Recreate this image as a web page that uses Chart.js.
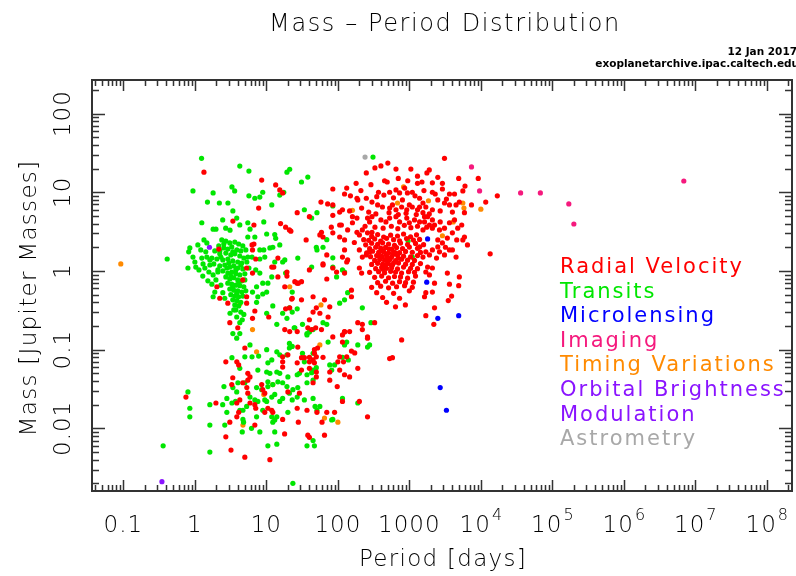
<!DOCTYPE html>
<html lang="en">
<head>
<meta charset="UTF-8" />
<title>Mass - Period Distribution</title>
<script src="https://cdn.jsdelivr.net/npm/chart.js"></script>
<style>
  body { margin: 0; background: #fff; }
  canvas { display: block; }
</style>
</head>
<body>
<canvas id="chart" width="796" height="576"></canvas>
<script>
// [period (days), mass (Jupiter masses)]
const radialVelocity = [
  [1.34,18],[8.6,14.3],[13.5,12.4],[15.4,10.7],[16.9,9.8],[7.8,6.3],[27,5.5],[3.4,4.3],[6.7,3.84],[15.8,4.0],
  [18.6,3.6],[22,3.2],[40,4.9],[6.3,2.14],[6.4,1.85],[2.16,1.9],[6.7,2.2],[7.1,1.42],[5.3,1.09],[11.9,1.12],
  [12.7,1.12],[14.5,1.46],[6.4,0.94],[14.5,0.84],[19.4,0.86],[19.4,0.97],[25,0.73],[28,0.7],[18.1,0.63],[2.03,0.63],
  [2.23,0.45],[2.89,0.39],[5.3,0.39],[6.9,0.31],[3.08,0.22],[3.98,0.19],[6.4,0.25],[10.8,0.26],[18.6,0.33],[22.6,0.44],
  [21.2,0.34],[21.2,0.17],[27,0.17],[4.68,0.77],[5.3,0.47],
  // upper giant-planet cloud
  [400,21.6],[330,20.4],[250,17.6],[500,23.5],[650,19.7],[1050,19.7],[1760,17.6],[3100,27],[4900,15],[9200,15],
  [85,11],[124,9.5],[133,11.3],[58,7.5],[72,7.1],[85,6.9],[370,10],[450,14],[490,13.5],[530,10],
  [650,10.7],[730,9.8],[860,11.3],[940,9.8],[1100,10],[1300,13],[1500,13.5],[1900,19.2],[2100,13.2],[2900,13],
  [2900,11],[2100,10],[3640,9.5],[4280,9.5],[5600,10.4],[11700,7.5],[17000,9],[7400,6.9],[5900,5.5],[4500,6.9],
  [5000,7.5],[2500,8],[3100,7.3],[3640,6.9],[1390,8.4],[1550,7.3],[1390,6.5],[2100,6],[1550,5.5],[185,8.4],
  [190,8],[215,6.3],[250,8.4],[300,7.5],[106,5.6],[116,6],[146,5.8],[85,5.1],[106,3.84],[360,6.9],
  [420,6.5],[530,6.3],[580,6.9],[650,6],[780,6.5],[920,6],[1000,6.9],[1100,6.5],[1300,6],[1700,6.5],
  [160,4.9],[185,4.7],[160,4.1],[112,3.84],[81,3.6],[260,4.7],[278,4.2],[300,4.9],[400,4.45],[470,4.2],
  [530,4.7],[650,4.9],[730,4.2],[920,4.7],[1000,4.1],[1180,4.45],[1390,4.2],[1630,4.9],[1800,4.9],[2100,4.45],
  [1630,4.2],[2250,3.84],[1910,3.84],[4280,4.45],[5400,3.84],[4750,3.5],[3640,4.1],[3100,3.5],[2640,3.32],[2100,3.5],
  [1550,3.32],[137,3.32],[185,3.1],[200,2.87],[220,3.32],[260,3.05],[300,3.1],[85,3.05],[106,2.7],[124,2.48],
  [59,3.1],[62,2.7],[56,2.87],[36,2.48],[21,3.32],[4000,3.05],[3400,2.62],[5900,2.7],[5600,2.48],[6500,2.14],
  [4600,2.48],[2500,2.48],[2900,2.27],[2500,2.02],[2100,1.85],[1700,1.75],[2640,1.75],[3100,1.6],[3640,1.85],[4000,1.85],
  [1910,1.6],[1550,1.5],[2400,1.46],[1390,2.02],[13500,1.65],[124,1.85],[116,1.5],[137,1.38],[70,1.6],[62,1.19],
  [133,1.3],[200,1.85],[220,1.5],[250,1.6],[278,1.75],[85,1.09],[96,0.97],[124,0.94],[200,1.09],[215,0.94],
  [1800,1.12],[2100,1.09],[1700,0.97],[1910,0.89],[3400,0.94],[5000,0.84],[4900,0.65],[3640,0.68],[2250,0.7],[2100,0.54],
  [1700,0.53],[1630,0.47],[3900,0.48],[3500,0.42],[2250,0.34],[1700,0.27],[2200,0.21],[40,1.03],[62,1.23],[70,0.79],
  [150,9.0],[210,10.5],[290,12.5],[350,8.8],[440,9.2],[600,8.5],[800,8.0],[1200,9.0],[1600,10.5],[2300,9.5],
  [3300,8.2],[270,5.6],[340,5.3],[520,5.5],[700,5.2],[900,5.4],[1250,5.2],[1900,5.3],[2700,5.8],[4000,5.6],
  [240,3.7],[330,3.6],[430,3.5],[560,3.7],[690,3.45],[850,3.8],[1050,3.55],[1300,3.7],[1750,3.6],[2700,4.2],
  [170,2.3],[230,2.5],[3200,2.0],[4500,1.5],[1300,16],[700,15],[950,14],[2500,15.5],[6000,12],[180,13],
  // dense core near 1 AU
  [297,2.75],[360,2.9],[437,2.7],[547,2.85],[683,2.78],[830,2.95],[1040,2.72],[1260,2.88],
  [270,2.45],[327,2.55],[397,2.4],[480,2.6],[602,2.5],[730,2.42],[914,2.58],[1140,2.47],[1390,2.52],
  [245,2.15],[297,2.25],[360,2.18],[423,2.28],[512,2.2],[620,2.12],[753,2.26],[944,2.17],[1220,2.24],[1580,2.16],
  [278,1.92],[338,2.0],[397,1.95],[465,1.99],[565,1.9],[662,1.98],[803,1.93],[1000,2.01],[1300,1.94],
  [253,1.7],[306,1.78],[372,1.72],[437,1.76],[512,1.69],[602,1.75],[730,1.71],[885,1.77],[1100,1.73],[1430,1.72],
  [287,1.52],[349,1.57],[410,1.53],[480,1.56],[565,1.5],[683,1.58],[830,1.54],[1040,1.51],[1300,1.57],
  [327,1.36],[384,1.4],[450,1.37],[530,1.39],[641,1.35],[778,1.41],[944,1.37],[1180,1.36],
  [297,1.21],[360,1.25],[423,1.22],[496,1.24],[583,1.2],[705,1.26],[885,1.22],[1100,1.21],[1430,1.24],
  [338,1.07],[410,1.11],[480,1.08],[565,1.1],[683,1.06],[830,1.12],[1040,1.08],[1300,1.07],
  [278,0.96],[372,0.98],[450,0.95],[547,0.99],[641,0.97],[778,0.94],[975,0.98],[1180,0.96],
  [327,0.83],[410,0.86],[512,0.82],[620,0.85],[753,0.84],[944,0.81],[1220,0.86],
  [360,0.71],[465,0.74],[583,0.7],[730,0.73],[885,0.71],[1140,0.72],
  [297,0.62],[397,0.64],[512,0.61],[662,0.63],[857,0.65],[1100,0.62],
  [349,0.53],[602,0.52],[1000,0.56],
  [423,0.46],[730,0.45],
  [420,1.8],[470,1.65],[540,1.45],[590,1.62],[500,1.3],[455,1.15],[610,1.28],[395,1.5],[520,1.9],[640,1.7],
  [560,1.2],[430,1.05],[700,1.45],[475,1.42],
  // lower-mass warm planets
  [27,0.7],[31,0.73],[45,0.47],[65,0.43],[50,0.34],[77,0.35],[73,0.26],[155,0.57],[155,0.47],[146,0.17],
  [124,0.17],[190,0.22],[220,0.21],[220,0.18],[327,0.22],[260,0.14],[780,0.133],[530,0.077],[580,0.079],[45,0.3],
  [56,0.29],[38,0.19],[43,0.18],[52,0.105],[47,0.09],[62,0.08],[27.5,0.108],[40,0.08],[31,0.055],[40,0.058],
  [50,0.052],[116,0.125],[85,0.145],[155,0.096],[172,0.091],[100,0.07],[106,0.055],[18.1,0.18],[49,0.19],[59,0.18],
  [40,0.24],[23,0.45],[31,0.43],[480,0.4],[880,0.37],[640,0.35],
  [5.0,0.105],[2.71,0.07],[3.86,0.07],[4.1,0.064],[5.5,0.05],[5.9,0.045],[5.5,0.041],[3.39,0.044],[3.28,0.036],[4.68,0.038],
  [5.33,0.033],[5.5,0.028],[8.6,0.036],[8.9,0.031],[9.5,0.028],[16.9,0.081],[16.9,0.07],[16.9,0.06],[20,0.086],[27,0.068],
  [31,0.079],[34,0.079],[40,0.07],[45,0.074],[50,0.081],[47,0.1],[47,0.068],[50,0.045],[45,0.038],[20,0.029],
  [29,0.028],[77,0.052],[77,0.041],[98,0.034],[116,0.154],[124,0.168],[106,0.081],[133,0.081],[120,0.07],[124,0.048],
  [146,0.045],[190,0.058],[260,0.145],[260,0.014],[116,0.022],[200,0.022],[90,0.016],[70,0.016],[51,0.016],[60,0.012],
  [37,0.017],[27,0.018],[65,0.0082],[38,0.0082],[40,0.0077],[18,0.0085],[28,0.012],[6.9,0.02],[7.1,0.018],[10.5,0.018],
  [11.9,0.017],[12.3,0.016],[9.5,0.016],[4.1,0.016],[3.86,0.014],[3.08,0.012],[6.9,0.011],[16.9,0.013],[1.97,0.021],[3.86,0.021],
  [2.71,0.0078],[3.2,0.0053],[5.0,0.0043],[11.2,0.004],[0.75,0.025],[4.25,0.023],[5.9,0.021]
];

const transits = [
  [1.24,27],[4.25,21.5],[5.7,18.6],[0.94,10.4],[1.8,9.8],[1.5,7.5],[2.2,7.3],[2.9,7.3],[3.3,11.7],[3.6,10.4],
  [5.7,9.0],[6.9,8.4],[8.1,8.7],[8.9,10],[11.9,6.9],[15.4,9.2],[17.5,10],[19.4,18],[21.2,19.6],[38,15.6],
  [31,13.5],[3.4,5.8],[1.25,4.1],[2.45,4.45],[1.8,3.4],[1.97,3.4],[2.7,3.5],[3.1,3.3],[3.85,4.7],[4.25,3.85],
  [5.5,4.1],[5.9,3.4],[9.2,4.2],[5.5,2.7],[6.9,2.7],[10.1,2.95],[13.1,2.9],[13.5,2.6],[1.34,2.48],[1.47,2.27],
  [0.85,1.96],[0.82,1.75],[0.41,1.42],[0.8,1.09],[1.03,1.12],[0.94,1.5],[1.25,1.46],[1.47,1.5],[1.3,1.23],[1.62,1.19],
  [1.57,0.97],[1.8,0.89],[1.9,0.54],[1.8,0.47],[2.23,1.8],[2.1,1.03],[8.1,1.85],[9.2,1.85],[11.2,1.96],[12.3,2.0],
  [9.5,1.5],[8.1,1.42],[15.4,2.14],[16.9,1.3],[18.1,1.38],[13.1,1.3],[5.5,1.5],[6.3,1.5],[7.1,1.03],[8.1,0.94],
  [8.9,0.7],[10.5,0.7],[11.9,0.84],[7.3,0.63],[10.1,0.54],[8.9,0.51],[7.6,0.47],[7.3,0.4],[6.4,0.54],[12.3,0.36],
  [18.6,0.94],[23,0.54],[27,0.33],[24.5,0.19],[27.5,1.46],[10.1,0.29],[14,0.21],[16.9,0.29],[19.4,0.25],[3.4,0.16],
  [4.25,0.16],[3.1,0.29],[3.85,0.26],[4.25,0.22],[4.6,0.24],[3.5,0.32],
  // hot-Jupiter clump
  [2.38,2.48],[2.71,2.4],[3.08,2.27],[3.62,2.33],[4.1,2.2],[4.68,2.08],[2.16,2.08],[2.54,1.96],[2.89,1.9],[3.28,2.02],
  [3.86,1.85],[4.39,1.8],[5.16,1.85],[1.9,1.8],[2.23,1.65],[2.71,1.69],[3.18,1.6],[3.62,1.65],[4.25,1.55],[4.84,1.46],
  [1.73,1.46],[2.03,1.42],[2.46,1.38],[2.89,1.42],[3.39,1.34],[3.98,1.3],[4.53,1.26],[5.33,1.3],[1.84,1.23],[2.23,1.16],
  [2.62,1.19],[3.08,1.12],[3.5,1.16],[3.98,1.09],[4.68,1.06],[5.7,1.09],[2.1,0.97],[2.46,1.0],[2.89,0.94],[3.28,0.97],
  [3.74,0.92],[4.25,0.89],[5.0,0.92],[2.71,0.84],[3.08,0.79],[3.5,0.82],[3.98,0.77],[4.53,0.75],[2.89,0.7],[3.28,0.68],
  [3.74,0.66],[4.25,0.65],[4.84,0.63],[3.08,0.59],[3.5,0.57],[3.98,0.56],[4.53,0.54],[5.16,0.56],[3.18,0.5],[3.62,0.48],
  [4.1,0.47],[4.68,0.48],[3.39,0.43],[3.86,0.42],[4.39,0.4],[3.62,0.37],[4.1,0.36],[3.74,0.32],[4.39,0.3],[4.84,0.28],
  [1.1,2.14],[1.21,1.85],[1.42,1.75],[1.0,1.3],[1.14,1.03],[1.38,1.09],[1.62,1.38],[1.29,0.86],[1.52,0.75],[1.73,0.68],
  [1.97,0.77],[2.31,0.66],[2.46,0.53],[2.62,0.45],[2.54,2.2],[3.39,1.75],[2.98,1.26],[3.74,1.03],[3.18,0.86],[4.1,0.7],
  [3.39,0.63],[3.86,0.52],[2.8,1.09],[4.39,1.19],[2.31,1.5],[5.0,0.77],
  // longer periods
  [34,6.0],[43,4.7],[51,5.5],[85,6.7],[70,2.5],[50,2.0],[62,2.0],[51,1.85],[85,1.47],[85,1.12],
  [116,1.03],[124,0.97],[96,0.84],[43,1.12],[960,2.4],[1100,1.5],[137,0.53],[124,0.43],[106,0.39],[220,0.34],
  [290,0.22],[70,0.21],[62,0.22],[21,0.34],[23,0.3],[32,0.21],[37,0.16],[45,0.18],[25,0.19],[73,0.125],
  [133,0.125],[124,0.115],[190,0.115],[278,0.115],[260,0.108],[116,0.08],[140,0.074],[32,0.09],[34,0.07],[90,0.064],
  [82,0.055],[45,0.055],[43,0.051],[37,0.048],[21,0.12],[21,0.105],[310,28],
  // Neptunes and super-Earths
  [3.85,0.14],[5.9,0.115],[10.1,0.1],[14,0.094],[15.4,0.086],[19.4,0.086],[23,0.11],[37,0.154],[40,0.168],[45,0.09],
  [7.8,0.083],[3.3,0.079],[5.0,0.081],[6.3,0.081],[11.9,0.074],[10.5,0.068],[4.25,0.058],[7.6,0.055],[10.1,0.052],[11.2,0.05],
  [14,0.052],[15.4,0.05],[20,0.045],[27,0.048],[29,0.05],[50,0.059],[77,0.064],[4.0,0.038],[5.0,0.038],[3.4,0.033],
  [7.3,0.033],[8.6,0.031],[10.5,0.039],[10.5,0.034],[12.3,0.036],[14.5,0.039],[16.9,0.038],[19.4,0.034],[23.5,0.031],[27.5,0.033],
  [37,0.038],[45,0.041],[2.55,0.034],[3.85,0.029],[2.8,0.024],[3.7,0.022],[5.9,0.025],[6.9,0.023],[7.6,0.022],[9.5,0.023],
  [10.1,0.022],[11.9,0.025],[13.1,0.027],[16.9,0.024],[15.4,0.022],[23,0.023],[27,0.025],[34,0.023],[45,0.024],[56,0.019],
  [116,0.024],[190,0.021],[1.62,0.02],[2.45,0.02],[3.3,0.021],[5.3,0.019],[4.7,0.017],[7.3,0.014],[8.9,0.017],[11.9,0.014],
  [13.1,0.0128],[14,0.014],[12.3,0.012],[2.8,0.016],[4.25,0.017],[4.7,0.013],[4.8,0.012],[20,0.016],[1.62,0.011],[2.62,0.011],
  [4.6,0.009],[6.2,0.01],[8.1,0.009],[13.1,0.009],[0.8,0.029],[0.85,0.018],[0.85,0.014],[0.36,0.006],[1.62,0.005],[10.5,0.006],
  [14,0.0063],[37,0.006],[47,0.006],[45,0.007],[23.5,0.002],[82,0.0128],[85,0.013],[48,0.019],[51,0.017],[21,0.028]
];

const microlensing = [[1800,2.55],[1750,0.72],[2500,0.25],[4900,0.27],[2700,0.033],[3300,0.017]];

const imaging = [[7400,21],[9600,10.4],[36000,9.8],[68000,9.8],[170000,7.1],[200000,3.95],[6.9e6,13.9]];

const timingVariations = [
  [0.092,1.23],[21.2,0.63],[4.25,0.38],[6.4,0.18],[7.3,0.094],[56,0.115],[12.3,0.036],[9.2,0.027],[4.7,0.011],[65,0.0135],
  [100,0.012],[830,11.7],[683,7.3],[160,5.9],[1850,7.8],[5600,7.3],[5800,6.3],[10000,6.1],[2900,2.8],[4100,4.2],[58,0.37]
];

const orbitalBrightness = [[1.6,2.0],[0.346,0.0021]];

const astrometry = [[240,28]];

const methodNames = ['Radial Velocity', 'Transits', 'Microlensing', 'Imaging',
  'Timing Variations', 'Orbital Brightness\nModulation', 'Astrometry'];
const methodColors = ['#ff0000', '#00e600', '#0000ff', '#f5197d', '#ff8a00', '#8a14ff', '#a8a8a8'];
const methodData = [radialVelocity, transits, microlensing, imaging, timingVariations, orbitalBrightness, astrometry];

const xTickValues = [0.1, 1, 10, 100, 1000, 1e4, 1e5, 1e6, 1e7, 1e8];
const xTickLabels = ['0.1', '1', '10', '100', '1000', '10^4', '10^5', '10^6', '10^7', '10^8'];
const yTickValues = [100, 10, 1, 0.1, 0.01];
const yTickLabels = ['100', '10', '1', '0.1', '0.01'];

const FONT = "'DejaVu Sans', sans-serif";
const LIGHT = '300 ';

function spaced(ctx, px) {
  if ('letterSpacing' in ctx) ctx.letterSpacing = px + 'px';
}

const axesPlugin = {
  id: 'axesPlugin',
  afterDatasetsDraw(chart) {
    const { ctx, chartArea: a, scales } = chart;
    const x = scales.x, y = scales.y;
    ctx.save();

    // frame
    ctx.strokeStyle = '#333';
    ctx.lineWidth = 2;
    ctx.strokeRect(a.left, a.top, a.right - a.left, a.bottom - a.top);

    // inward log ticks on all four sides
    ctx.lineWidth = 1.5;
    ctx.beginPath();
    for (let d = -2; d <= 8; d++) {
      for (let k = 1; k <= 9; k++) {
        const v = k * Math.pow(10, d);
        if (v < x.min || v > x.max) continue;
        const px = Math.round(x.getPixelForValue(v)) + 0.5;
        const len = k === 1 ? 11 : 6;
        ctx.moveTo(px, a.bottom); ctx.lineTo(px, a.bottom - len);
        ctx.moveTo(px, a.top); ctx.lineTo(px, a.top + len);
      }
    }
    for (let d = -3; d <= 2; d++) {
      for (let k = 1; k <= 9; k++) {
        const v = k * Math.pow(10, d);
        if (v < y.min || v > y.max) continue;
        const py = Math.round(y.getPixelForValue(v)) + 0.5;
        const len = k === 1 ? 13 : 7;
        ctx.moveTo(a.left, py); ctx.lineTo(a.left + len, py);
        ctx.moveTo(a.right, py); ctx.lineTo(a.right - len, py);
      }
    }
    ctx.stroke();

    ctx.fillStyle = '#000';

    // x tick labels
    xTickValues.forEach((v, i) => {
      const px = x.getPixelForValue(v);
      const lab = xTickLabels[i];
      const base = 532;
      spaced(ctx, 1);
      ctx.textBaseline = 'alphabetic';
      if (lab.includes('^')) {
        const [b, e] = lab.split('^');
        ctx.font = LIGHT + '23px ' + FONT;
        const wb = ctx.measureText(b).width;
        ctx.font = LIGHT + '16px ' + FONT;
        const we = ctx.measureText(e).width;
        const left = px - (wb + we) / 2;
        ctx.textAlign = 'left';
        ctx.font = LIGHT + '23px ' + FONT;
        ctx.fillText(b, left, base);
        ctx.font = LIGHT + '16px ' + FONT;
        ctx.fillText(e, left + wb + 1, base - 12);
      } else {
        ctx.font = LIGHT + '23px ' + FONT;
        ctx.textAlign = 'center';
        ctx.fillText(lab, px, base);
      }
    });

    // y tick labels, rotated
    yTickValues.forEach((v, i) => {
      const py = y.getPixelForValue(v);
      ctx.save();
      ctx.translate(70, py);
      ctx.rotate(-Math.PI / 2);
      ctx.font = LIGHT + '23px ' + FONT;
      spaced(ctx, 1);
      ctx.textAlign = 'center';
      ctx.textBaseline = 'alphabetic';
      ctx.fillText(yTickLabels[i], 0, 0);
      ctx.restore();
    });

    // axis titles
    ctx.font = LIGHT + '23px ' + FONT;
    spaced(ctx, 1.3);
    ctx.textAlign = 'center';
    ctx.textBaseline = 'alphabetic';
    ctx.fillText('Period [days]', 443, 566);
    ctx.save();
    ctx.translate(36, 298);
    ctx.rotate(-Math.PI / 2);
    ctx.fillText('Mass [Jupiter Masses]', 0, 0);
    ctx.restore();

    // title and source
    ctx.fillStyle = '#000';
    ctx.font = LIGHT + '24px ' + FONT;
    spaced(ctx, 1.6);
    ctx.fillText('Mass \u2013 Period Distribution', 445, 31);
    ctx.font = 'bold 10.5px ' + FONT;
    spaced(ctx, 0);
    ctx.textAlign = 'right';
    ctx.fillText('12 Jan 2017', 797, 55);
    ctx.fillText('exoplanetarchive.ipac.caltech.edu', 799, 67);

    // coloured method key
    ctx.textAlign = 'left';
    ctx.font = '21px ' + FONT;
    spaced(ctx, 2);
    let line = 0;
    methodNames.forEach((name, i) => {
      ctx.fillStyle = methodColors[i];
      name.split('\n').forEach(part => {
        ctx.fillText(part, 560, 273 + line * 24.6);
        line++;
      });
    });
    ctx.restore();
  }
};

new Chart(document.getElementById('chart'), {
  type: 'scatter',
  data: {
    datasets: methodData.map((pts, i) => ({
      label: methodNames[i],
      data: pts.map(p => ({ x: p[0], y: p[1] })),
      backgroundColor: methodColors[i],
      borderWidth: 0,
      pointRadius: 2.6
    }))
  },
  options: {
    responsive: false,
    animation: false,
    devicePixelRatio: 1,
    layout: { padding: { left: 92, top: 80, right: 3, bottom: 85 } },
    plugins: { legend: { display: false }, tooltip: { enabled: false } },
    scales: {
      x: { type: 'logarithmic', min: 0.0364, max: 2.25e8, display: false },
      y: { type: 'logarithmic', min: 0.0016, max: 267, display: false }
    }
  },
  plugins: [axesPlugin]
});
</script>
</body>
</html>
